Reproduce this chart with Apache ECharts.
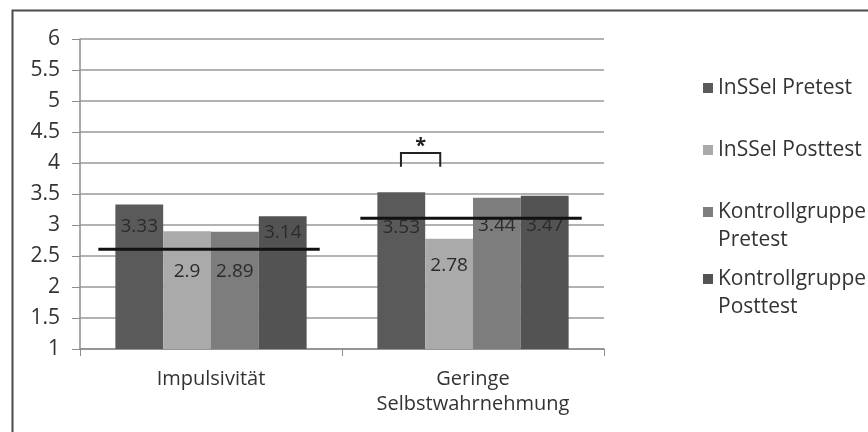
<!DOCTYPE html>
<html>
<head>
<meta charset="utf-8">
<script src="https://cdn.jsdelivr.net/npm/echarts@6/dist/echarts.min.js"></script>
<style>
html,body{margin:0;padding:0;background:#fff;}
#main{width:868px;height:432px;}
</style>
</head>
<body>
<div id="main"></div>
<script>
// ---- data ----
const categories = ['Impulsivität', 'Geringe\nSelbstwahrnehmung'];
const seriesNames = ['InSSel Pretest', 'InSSel Posttest', 'Kontrollgruppe Pretest', 'Kontrollgruppe Posttest'];
const inSSelPretest = [3.33, 3.53];
const inSSelPosttest = [2.9, 2.78];
const kontrollPretest = [2.89, 3.44];
const kontrollPosttest = [3.14, 3.47];
const referenceLine = [2.61, 3.11];
const significance = [{ category: 1, top: 4.16, bottom: 3.94, text: '*' }];
const yTicks = { min: 1, max: 6, interval: 0.5 };

// ---- styles ----
const FONT = 'Open Sans';
const colors = ['#5a5a5a', '#aaaaaa', '#7d7d7d', '#535353'];
const labelDist = [[13, 26], [31, 17], [30, 18], [7, 20]];
const values = [inSSelPretest, inSSelPosttest, kontrollPretest, kontrollPosttest];

const barSeries = values.map((vals, si) => ({
  name: seriesNames[si],
  type: 'bar',
  barGap: '0%',
  barCategoryGap: '27%',
  itemStyle: { color: colors[si] },
  data: vals.map((v, ci) => ({
    value: v,
    label: {
      show: true,
      position: 'insideTop',
      distance: labelDist[si][ci],
      formatter: String(v),
      color: '#2b2b2b',
      fontFamily: FONT,
      fontSize: 19
    }
  })),
  z: 2
}));

const refSeries = {
  type: 'custom',
  name: 'ref',
  z: 5,
  silent: true,
  data: referenceLine.map((v, i) => [i, v]),
  renderItem: function (params, api) {
    const p = api.coord([api.value(0), api.value(1)]);
    const w = api.size([1, 0])[0];
    return {
      type: 'line',
      shape: { x1: p[0] - w * 0.43, y1: p[1], x2: p[0] + w * 0.415, y2: p[1] },
      style: { stroke: '#111', lineWidth: 3 }
    };
  }
};

const sigSeries = {
  type: 'custom',
  name: 'sig',
  z: 5,
  silent: true,
  data: significance.map(s => [s.category, s.top, s.bottom]),
  renderItem: function (params, api) {
    const c = api.value(0);
    const top = api.coord([c, api.value(1)]);
    const bot = api.coord([c, api.value(2)]);
    const w = api.size([1, 0])[0];
    const xl = top[0] - w * 0.275;
    const xr = top[0] - w * 0.125;
    return {
      type: 'group',
      children: [
        {
          type: 'polyline',
          shape: { points: [[xl, bot[1]], [xl, top[1]], [xr, top[1]], [xr, bot[1]]] },
          style: { stroke: '#222', lineWidth: 2, fill: null }
        },
        {
          type: 'text',
          style: {
            text: significance[params.dataIndex].text,
            x: (xl + xr) / 2, y: top[1] - 7,
            align: 'center', verticalAlign: 'middle',
            fill: '#222', font: 'bold 20px ' + FONT
          }
        }
      ]
    };
  }
};

// icon centre of each legend entry sits at top + 19
const legendTops = [69, 131, 193, 260];
const twoLineIcon = 'path://M0,0L10,0L10,10L0,10ZM0,38';
const legends = seriesNames.map((n, i) => {
  const twoLine = n.indexOf('Kontrollgruppe ') === 0;
  return {
    data: [n],
    left: 698,
    top: legendTops[i],
    orient: 'vertical',
    icon: twoLine ? twoLineIcon : 'rect',
    itemWidth: 10,
    itemHeight: twoLine ? 38 : 10,
    selectedMode: false,
    formatter: function (name) { return name.replace('Kontrollgruppe ', 'Kontrollgruppe\n'); },
    textStyle: { fontFamily: FONT, fontSize: 21, color: '#333', lineHeight: 28 }
  };
});

const option = {
  backgroundColor: '#ffffff',
  animation: false,
  color: colors,
  grid: { left: 80, right: 264, top: 39, bottom: 83, containLabel: false },
  legend: legends,
  xAxis: {
    type: 'category',
    data: categories,
    axisLine: { show: true, lineStyle: { color: '#8c8c8c', width: 1.5 } },
    axisTick: { show: true, length: 7, lineStyle: { color: '#8c8c8c' } },
    axisLabel: { fontFamily: FONT, fontSize: 20, color: '#333', margin: 18, lineHeight: 25 }
  },
  yAxis: {
    type: 'value',
    min: yTicks.min, max: yTicks.max, interval: yTicks.interval,
    axisLine: { show: true, lineStyle: { color: '#8c8c8c', width: 1.5 } },
    axisTick: { show: true, length: 8, lineStyle: { color: '#8c8c8c' } },
    axisLabel: { fontFamily: FONT, fontSize: 21, color: '#333', margin: 20 },
    splitLine: { show: true, lineStyle: { color: '#9a9a9a', width: 1.5 } }
  },
  graphic: [{
    type: 'rect', left: 10, top: 8, silent: true,
    shape: { width: 900, height: 500 },
    style: { fill: null, stroke: '#4a4a4a', lineWidth: 2 }
  }],
  series: barSeries.concat([refSeries, sigSeries])
};

const chart = echarts.init(document.getElementById('main'), null, { renderer: 'canvas' });
chart.setOption(option);
</script>
</body>
</html>
